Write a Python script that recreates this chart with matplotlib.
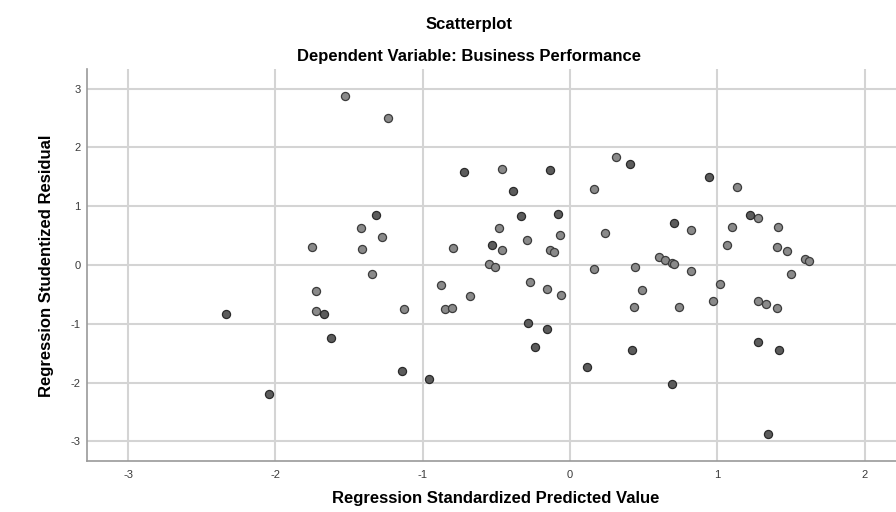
import numpy
import matplotlib
matplotlib.use('Agg')
import matplotlib.pyplot as plt

# Standardized predicted values / studentized residuals
# (two groups only because some markers are drawn darker in the original)
pred_light = [-1.527, -1.236, -0.464, 0.312, 0.165, 1.134, -1.421, -1.274, -0.484, -0.066,
              0.238, -1.752, -1.414, -0.796, -0.462, -0.294, -0.136, -0.111, -1.344, -0.552,
              -0.507, 0.165, -0.874, -0.272, -0.158, -0.063, -0.681, -1.127, -0.847, -0.803,
              -1.722, -1.722, 0.823, 1.100, 1.278, 1.414, 1.064, 1.407, 1.475, 0.604,
              0.645, 0.694, 0.709, 1.593, 1.623, 0.439, 0.823, 1.500, 1.018, 0.489,
              0.437, 0.738, 0.973, 1.278, 1.329, 1.403]
resid_light = [2.879, 2.499, 1.641, 1.835, 1.300, 1.324, 0.635, 0.472, 0.625, 0.511,
               0.540, 0.302, 0.267, 0.284, 0.261, 0.431, 0.250, 0.221, -0.158, 0.017,
               -0.034, -0.073, -0.336, -0.290, -0.409, -0.511, -0.528, -0.750, -0.755, -0.738,
               -0.443, -0.784, 0.596, 0.642, 0.796, 0.642, 0.336, 0.307, 0.233, 0.131,
               0.090, 0.039, 0.022, 0.097, 0.068, -0.034, -0.102, -0.153, -0.319, -0.426,
               -0.716, -0.716, -0.608, -0.608, -0.659, -0.733]

pred_dark = [-0.722, -0.134, -0.385, -1.317, -0.333, -0.081, -0.532, 0.409, 0.942, 1.220,
             0.706, -2.335, -1.672, -1.625, -2.041, -0.283, -0.158, -0.238, 0.113, -1.141,
             -0.959, 0.421, 1.274, 1.419, 0.694, 1.344]
resid_dark = [1.589, 1.618, 1.256, 0.857, 0.830, 0.869, 0.341, 1.715, 1.494, 0.847,
              0.721, -0.835, -0.835, -1.239, -2.203, -0.983, -1.090, -1.392, -1.733, -1.801,
              -1.947, -1.443, -1.317, -1.448, -2.032, -2.879]

xticks = [-3, -2, -1, 0, 1, 2]
yticks = [-3, -2, -1, 0, 1, 2, 3]

title_text = 'Scatterplot'
subtitle_text = 'Dependent Variable: Business Performance'
xlabel_text = 'Regression Standardized Predicted Value'
ylabel_text = 'Regression Studentized Residual'

plt.rcParams['font.family'] = ['Liberation Sans', 'DejaVu Sans']

dpi = 100
fig = plt.figure(figsize=(896/dpi, 512/dpi), dpi=dpi)
ax = fig.add_axes([0.0974, 0.1002, 0.9026, 0.7644])

gridcol = '#d4d4d4'
ax.set_axisbelow(True)
ax.grid(True, color=gridcol, linewidth=1.5)

ax.scatter(pred_light, resid_light, s=34, c='#8a8a8a', edgecolors='#3c3c3c', linewidths=0.9, zorder=3)
ax.scatter(pred_dark, resid_dark, s=34, c='#5c5c5c', edgecolors='#2a2a2a', linewidths=0.9, zorder=3)

ax.set_xlim(-3.277, 2.213)
ax.set_ylim(-3.33, 3.33)
ax.set_xticks(xticks)
ax.set_yticks(yticks)
ax.set_xticklabels([str(t) for t in xticks])
ax.set_yticklabels([str(t) for t in yticks])
ax.tick_params(axis='both', length=0, labelsize=8, labelcolor='#3a3a3a')
ax.tick_params(axis='x', pad=7)
ax.tick_params(axis='y', pad=5)

# only left/bottom axis lines, like the SPSS chart
ax.spines['top'].set_visible(False)
ax.spines['right'].set_visible(False)
for side in ['left', 'bottom']:
    ax.spines[side].set_color('#9a9a9a')
    ax.spines[side].set_linewidth(1.2)

# titles and axis labels
fig.text(0.523, 1 - 24/512, title_text, ha='center', va='center', fontsize=12, fontweight='bold')
fig.text(0.523, 1 - 57/512, subtitle_text, ha='center', va='center', fontsize=12, fontweight='bold')
fig.text(496/896, 1 - 498/512, xlabel_text, ha='center', va='center', fontsize=12, fontweight='bold')
fig.text(47/896, 1 - 266/512, ylabel_text, ha='center', va='center', rotation=90,
         fontsize=12, fontweight='bold')

plt.savefig('out.png', dpi=dpi)
plt.close()
